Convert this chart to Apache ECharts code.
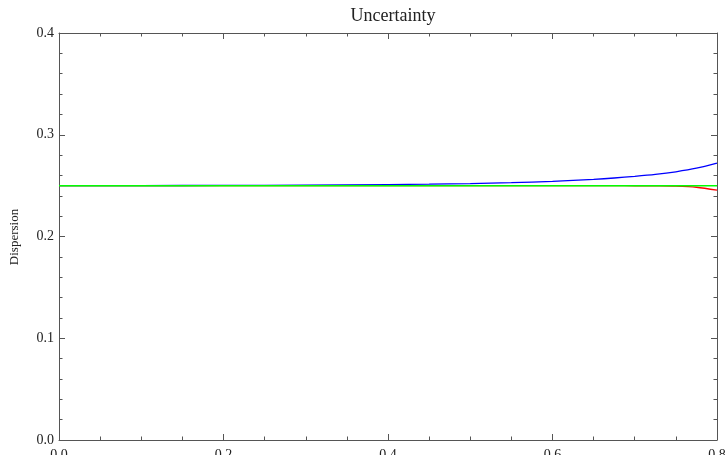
<!DOCTYPE html>
<html>
<head>
<meta charset="utf-8">
<script src="https://cdn.jsdelivr.net/npm/echarts@6/dist/echarts.min.js"></script>
<style>html,body{margin:0;padding:0;background:#fff}#c{width:725px;height:455px}</style>
</head>
<body>
<div id="c"></div>
<script>
const xs = [0, 0.1, 0.2, 0.3, 0.4, 0.45, 0.5, 0.55, 0.6, 0.625, 0.65, 0.675, 0.7, 0.725, 0.75, 0.775, 0.8];
const blueVals = [0.25, 0.25005, 0.2502, 0.2505, 0.2510, 0.2514, 0.2520, 0.2529, 0.2542, 0.2551, 0.2561, 0.2575, 0.2591, 0.2610, 0.2636, 0.2671, 0.2722];
const redVals = [0.25, 0.25, 0.25, 0.25, 0.25, 0.25, 0.25, 0.25, 0.25, 0.25, 0.25, 0.24995, 0.2499, 0.2498, 0.2495, 0.2484, 0.2455];
const greenVals = [0.25, 0.25, 0.25, 0.25, 0.25, 0.25, 0.25, 0.25, 0.25, 0.25, 0.25, 0.25, 0.25, 0.25, 0.25, 0.25, 0.25];
const titleText = 'Uncertainty';
const yName = 'Dispersion';

const pairs = v => xs.map((x, i) => [x, v[i]]);
const font = 'Liberation Serif';
const axisCol = '#555';

function xAx(pos, showLabel) {
  return {
    type: 'value', position: pos, min: 0, max: 0.8, interval: 0.2,
    axisLine: {show: true, onZero: false, lineStyle: {color: axisCol, width: 1}},
    axisTick: {show: true, inside: true, length: 6, lineStyle: {color: axisCol}},
    minorTick: {show: true, splitNumber: 4, length: 3.5, lineStyle: {color: axisCol}},
    splitLine: {show: false},
    axisLabel: {show: showLabel, margin: 8, fontFamily: font, fontSize: 14, color: '#222',
      formatter: v => v.toFixed(1)}
  };
}
function yAx(pos, showLabel) {
  return {
    type: 'value', position: pos, min: 0, max: 0.4, interval: 0.1,
    axisLine: {show: true, onZero: false, lineStyle: {color: axisCol, width: 1}},
    axisTick: {show: true, inside: true, length: 6, lineStyle: {color: axisCol}},
    minorTick: {show: true, splitNumber: 5, length: 3.5, lineStyle: {color: axisCol}},
    splitLine: {show: false},
    axisLabel: {show: showLabel, margin: 5, fontFamily: font, fontSize: 14, color: '#222',
      formatter: v => v.toFixed(1)}
  };
}

const chart = echarts.init(document.getElementById('c'), null, {renderer: 'canvas'});
chart.setOption({
  animation: false,
  backgroundColor: '#fff',
  title: {text: titleText, left: 388, top: 2, textAlign: 'center',
    textStyle: {fontFamily: font, fontSize: 18, fontWeight: 'normal', color: '#222'}},
  grid: {left: 59, right: 8, top: 33, bottom: 15, containLabel: false, outerBoundsMode: 'none'},
  xAxis: [xAx('bottom', true), xAx('top', false)],
  yAxis: [yAx('left', true), yAx('right', false)],
  graphic: [{
    type: 'text', rotation: Math.PI / 2,
    x: 15, y: 237,
    style: {text: yName, font: '13px "Liberation Serif"', fill: '#222', align: 'center', verticalAlign: 'middle'}
  }],
  series: [
    {type: 'line', data: pairs(blueVals), smooth: 0.3, symbol: 'none', lineStyle: {color: '#0000ff', width: 1.3}, z: 2},
    {type: 'line', data: pairs(redVals), smooth: 0.3, symbol: 'none', lineStyle: {color: '#ff0000', width: 1.3}, z: 3},
    {type: 'line', data: pairs(greenVals), symbol: 'none', lineStyle: {color: '#00ff00', width: 1.5}, z: 4}
  ]
});
</script>
</body>
</html>
